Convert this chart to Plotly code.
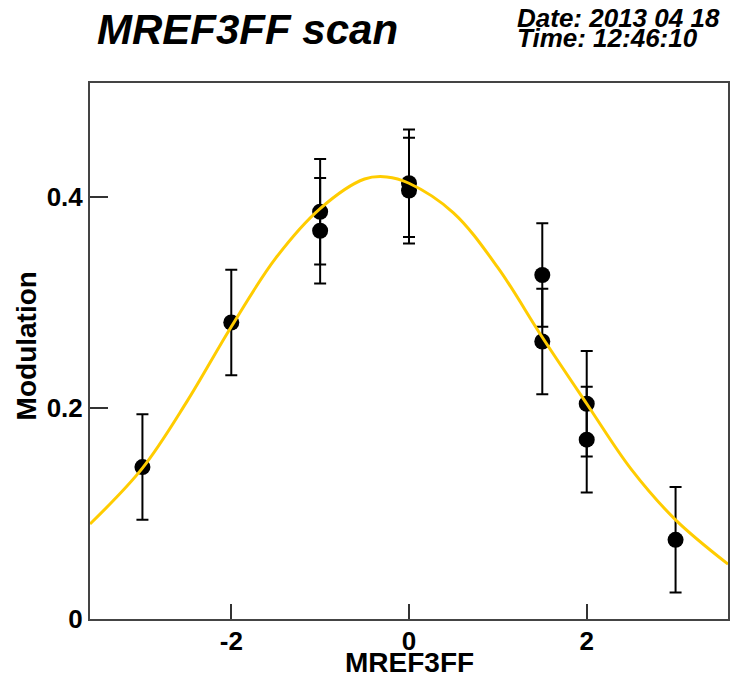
import plotly.graph_objects as go

# Measured modulation at each MREF3FF setting
scan_x = [-3, -2, -1, -1, 0, 0, 1.5, 1.5, 2, 2, 3]
modulation = [0.144, 0.281, 0.386, 0.368, 0.413, 0.406, 0.326, 0.263, 0.204, 0.170, 0.075]
mod_err = [0.050, 0.050, 0.050, 0.050, 0.051, 0.050, 0.049, 0.050, 0.050, 0.050, 0.050]

# Fitted curve, sampled along the scan range
fit_x = [-3.59, -3.0, -2.5, -2.0, -1.5, -1.0, -0.5, -0.25, 0.0, 0.5, 1.0, 1.5, 2.0, 2.5, 3.0, 3.59]
fit_y = [0.090, 0.143, 0.206, 0.277, 0.342, 0.389, 0.417, 0.419, 0.413, 0.385, 0.333, 0.267, 0.204, 0.142, 0.094, 0.052]

x_ticks = [-2, 0, 2]
y_ticks = [0, 0.2, 0.4]
y_tick_text = ["0", "0.2", "0.4"]

FONT = "Liberation Sans, Arial, sans-serif"

fig = go.Figure()

fig.add_trace(go.Scatter(
    x=scan_x, y=modulation, mode="markers",
    marker=dict(symbol="circle", size=16, color="black"),
    error_y=dict(type="data", array=mod_err, visible=True,
                 color="black", thickness=2, width=6),
    showlegend=False,
))

fig.add_trace(go.Scatter(
    x=fit_x, y=fit_y, mode="lines",
    line=dict(color="#FFCC00", width=3, shape="spline", smoothing=1.0),
    showlegend=False,
))

fig.update_layout(
    width=736, height=677,
    margin=dict(l=90, r=6, t=83, b=58),
    paper_bgcolor="white", plot_bgcolor="white",
    font=dict(family=FONT, color="black"),
    xaxis=dict(
        range=[-3.59, 3.59], tickmode="array", tickvals=x_ticks,
        ticktext=[str(v) for v in x_ticks],
        ticks="inside", ticklen=15, tickwidth=2, tickcolor="#333",
        showline=True, linecolor="#444", linewidth=2, mirror=True,
        showgrid=False, zeroline=False,
        tickfont=dict(family=FONT, size=26, color="black", weight="bold"),
        ticklabelstandoff=-2,
    ),
    yaxis=dict(
        range=[0, 0.508], tickmode="array", tickvals=y_ticks,
        ticktext=y_tick_text,
        ticks="inside", ticklen=18, tickwidth=2, tickcolor="#333",
        showline=True, linecolor="#444", linewidth=2, mirror=True,
        showgrid=False, zeroline=False,
        tickfont=dict(family=FONT, size=26, color="black", weight="bold"),
        ticklabelstandoff=0,
    ),
    annotations=[
        dict(text="<b><i>MREF3FF scan</i></b>", xref="paper", yref="paper",
             x=0.247, y=1.099, xanchor="center", yanchor="middle",
             showarrow=False, font=dict(family=FONT, size=42, color="black")),
        dict(text="<b><i>Date: 2013 04 18</i></b>", xref="paper", yref="paper",
             x=0.666, y=1.121, xanchor="left", yanchor="middle",
             showarrow=False, font=dict(family=FONT, size=26, color="black")),
        dict(text="<b><i>Time: 12:46:10</i></b>", xref="paper", yref="paper",
             x=0.666, y=1.084, xanchor="left", yanchor="middle",
             showarrow=False, font=dict(family=FONT, size=26, color="black")),
        dict(text="<b>MREF3FF</b>", xref="paper", yref="paper",
             x=0.5, y=-0.082, xanchor="center", yanchor="middle",
             showarrow=False, font=dict(family=FONT, size=28, color="black")),
        dict(text="<b>Modulation</b>", xref="paper", yref="paper",
             x=-0.1, y=0.509, xanchor="center", yanchor="middle", textangle=-90,
             showarrow=False, font=dict(family=FONT, size=28, color="black")),
    ],
)

fig.write_html("out.html")
